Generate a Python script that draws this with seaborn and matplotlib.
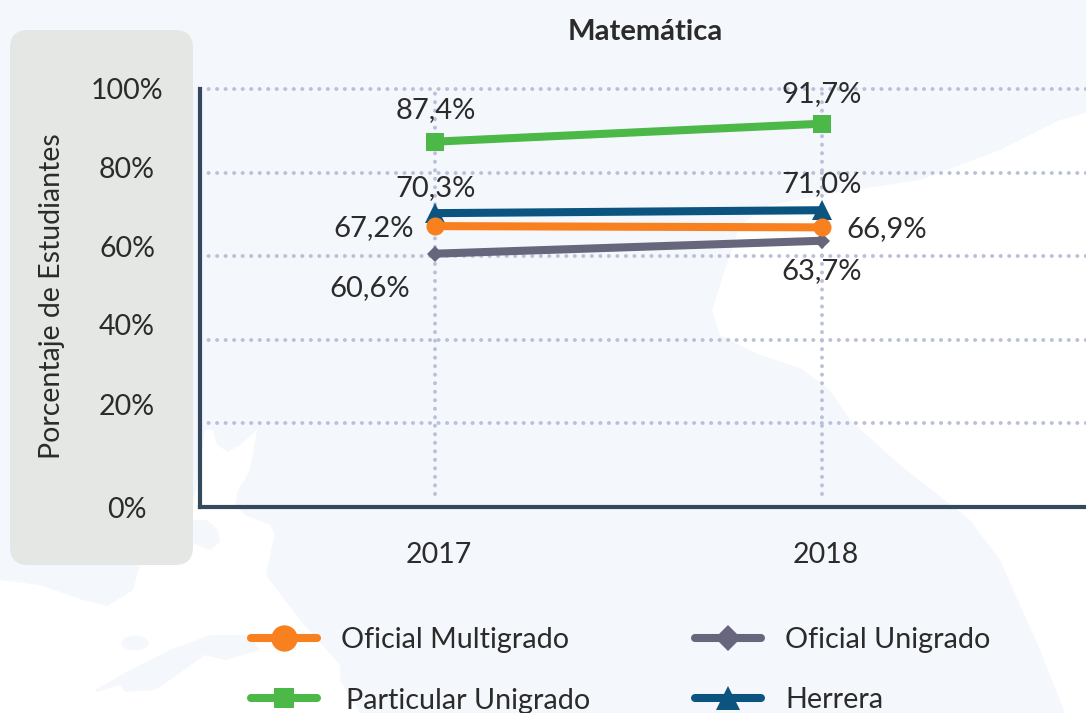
import matplotlib
matplotlib.use("Agg")
import pandas as pd
import seaborn as sns
from matplotlib import pyplot as plt
from matplotlib.lines import Line2D
from matplotlib.patches import Ellipse, FancyBboxPatch, Polygon
from matplotlib.transforms import ScaledTranslation

years = ["2017", "2018"]
oficial_multigrado = [67.2, 66.9]
oficial_unigrado = [60.6, 63.7]
particular_unigrado = [87.4, 91.7]
herrera = [70.3, 71.0]
y_ticks = [0, 20, 40, 60, 80, 100]

W, H = 1086, 713
DARK = "#2b2b2b"
AXIS = "#34495e"
GRID = "#b9c1d9"
LAND = "#f4f7fb"

series = {"Oficial Multigrado": oficial_multigrado,
          "Oficial Unigrado": oficial_unigrado,
          "Particular Unigrado": particular_unigrado,
          "Herrera": herrera}
colors = {"Oficial Multigrado": "#f9801f", "Oficial Unigrado": "#67667c",
          "Particular Unigrado": "#4cb848", "Herrera": "#0b5480"}
markers = {"Oficial Multigrado": "o", "Oficial Unigrado": "D",
           "Particular Unigrado": "s", "Herrera": "^"}
plot_ms = {"Oficial Multigrado": 13, "Oficial Unigrado": 8.5,
           "Particular Unigrado": 13, "Herrera": 14.5}
legend_ms = {"Oficial Multigrado": 19, "Oficial Unigrado": 13,
             "Particular Unigrado": 14.5, "Herrera": 17}

df = pd.DataFrame([{"year": y, "serie": s, "value": v}
                   for s, vals in series.items() for y, v in zip(years, vals)])

sns.set_theme(style="white")
plt.rcParams["font.family"] = ["Lato", "DejaVu Sans"]

fig = plt.figure(figsize=(W / 100, H / 100), dpi=100, facecolor=LAND)


def px(points):
    return [(x / W, 1 - y / H) for x, y in points]


def backdrop(points, color="#ffffff"):
    fig.patches.append(Polygon(px(points), transform=fig.transFigure, fc=color, ec="none", zorder=-5))


# faint map shapes behind the chart
backdrop([(1086, 113), (1060, 120), (1000, 150), (920, 180), (840, 192), (770, 205), (740, 225),
          (725, 270), (712, 310), (720, 335), (760, 355), (800, 368), (830, 390), (850, 420),
          (900, 465), (970, 520), (1000, 560), (1040, 650), (1065, 713), (1086, 713)])
backdrop([(0, 580), (40, 585), (83, 600), (107, 606), (133, 590), (140, 565), (141, 520),
          (193, 508), (205, 430), (213, 430), (217, 445), (228, 452), (240, 445), (257, 430),
          (250, 470), (238, 490), (235, 505), (245, 515), (270, 525), (275, 535), (271, 550),
          (266, 575), (300, 620), (340, 665), (340, 680), (360, 713), (0, 713)])
backdrop([(193, 520), (207, 520), (218, 530), (220, 542), (210, 550), (193, 543)], LAND)
backdrop([(95, 690), (130, 670), (170, 650), (210, 635), (250, 635), (260, 650), (225, 660),
          (205, 655), (170, 680), (155, 690), (125, 692), (120, 685), (97, 692)], LAND)
fig.patches.append(Ellipse((135 / W, 1 - 643 / H), 27 / W, 15 / H, transform=fig.transFigure,
                           fc=LAND, ec="none", zorder=-5))
fig.patches.append(Ellipse((235 / W, 1 - 478 / H), 21 / W, 12 / H, angle=0,
                           transform=fig.transFigure, fc="#ffffff", ec="none", zorder=-5))

panel = FancyBboxPatch((10 / W, 1 - 565 / H), 183 / W, 535 / H,
                       boxstyle="round,pad=0,rounding_size=0.0001",
                       transform=fig.transFigure, fc="#e5e7e5", ec="none", zorder=-4)
panel.set_boxstyle("round", pad=0, rounding_size=18 / W)
panel.set_mutation_aspect(W / H)
fig.patches.append(panel)

ax = fig.add_axes([200 / W, 1 - 507 / H, (W - 200) / W, (507 - 89) / H])
ax.patch.set_alpha(0)

sns.lineplot(data=df, x="year", y="value", hue="serie", style="serie", palette=colors,
             markers=markers, dashes=False, linewidth=5.8, markeredgewidth=0,
             legend=False, ax=ax, sort=False, estimator=None, units="serie")
for line, name in zip(ax.get_lines(), series):
    line.set_markersize(plot_ms[name])
    line.set_zorder(6 if name == "Oficial Multigrado" else 5)

ax.set_xlim(-0.607, 1.682)
ax.set_ylim(0, 100)
ax.set_xlabel("")
ax.set_ylabel("")

dots = dict(color=GRID, lw=2.8, linestyle=(0, (0.05, 2.14)), dash_capstyle="round",
            zorder=1, clip_on=False)
for y in y_ticks[1:]:
    ax.axhline(y, **dots)
for x in range(len(years)):
    ax.axvline(x, ymin=0.03, **dots)

for s in ["top", "right"]:
    ax.spines[s].set_visible(False)
for s in ["left", "bottom"]:
    ax.spines[s].set_color(AXIS)
    ax.spines[s].set_linewidth(3)

ax.set_yticks(y_ticks)
ax.set_yticklabels([f"{y}%" for y in y_ticks], fontsize=20.5, color=DARK, ha="center")
ax.tick_params(axis="y", length=0, pad=52.5)
ax.tick_params(axis="x", length=0, pad=25, labelsize=20.5, labelcolor=DARK)
for lbl in ax.get_xticklabels():
    lbl.set_transform(lbl.get_transform() + ScaledTranslation(2.5 / 72, 0, fig.dpi_scale_trans))
# the source's y labels do not sit level with the grid lines
for lbl, shift in zip(ax.get_yticklabels(), [0, 19, 15, 10, 5, 0]):
    lbl.set_transform(lbl.get_transform() + ScaledTranslation(0, shift / 100, fig.dpi_scale_trans))

# value labels: (series, year index, dx, dy in pixels)
labels = [("Particular Unigrado", 0, 1, -32), ("Particular Unigrado", 1, 0, -30),
          ("Herrera", 0, 1, -25), ("Herrera", 1, 0, -26),
          ("Oficial Multigrado", 0, -61, 2), ("Oficial Multigrado", 1, 65, 2),
          ("Oficial Unigrado", 0, -65, 34), ("Oficial Unigrado", 1, 0, 30)]
for name, i, dx, dy in labels:
    v = series[name][i]
    ax.annotate(f"{v:.1f}%".replace(".", ","), (i, v), xytext=(dx * 0.72, -dy * 0.72),
                textcoords="offset points", ha="center", va="center",
                fontsize=21, color=DARK, zorder=7, annotation_clip=False)

fig.text(645 / W, 1 - 32 / H, "Matemática", ha="center", va="center",
         fontsize=21, fontweight="bold", color=DARK)
fig.text(52 / W, 1 - 296 / H, "Porcentaje de Estudiantes", rotation=90,
         ha="center", va="center", fontsize=20.5, color=DARK)

order = ["Oficial Multigrado", "Particular Unigrado", "Oficial Unigrado", "Herrera"]
handles = [Line2D([], [], color=colors[s], marker=markers[s], lw=5.8, ms=legend_ms[s],
                  mew=0, solid_capstyle="round") for s in order]
leg = fig.legend(handles, order, ncol=2, loc="upper left", frameon=False,
                 bbox_to_anchor=(251 / W, 1 - 627 / H), bbox_transform=fig.transFigure,
                 borderaxespad=0, borderpad=0, fontsize=20.7, labelcolor=DARK,
                 handlelength=2.28, handletextpad=0.84, columnspacing=3.84, labelspacing=1.2)
leg.get_texts()[1].set_position((5, 0))

fig.savefig("out.png", dpi=100, facecolor=fig.get_facecolor())
